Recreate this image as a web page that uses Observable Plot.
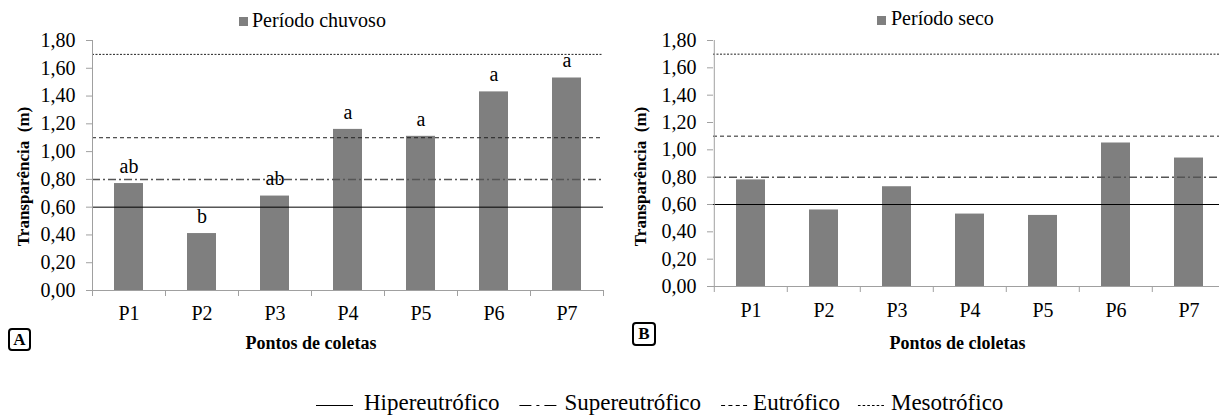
<!DOCTYPE html>
<html>
<head>
<meta charset="utf-8">
<script src="https://cdn.jsdelivr.net/npm/d3@7"></script>
<script src="https://cdn.jsdelivr.net/npm/@observablehq/plot@0.6"></script>
<style>
  html, body { margin: 0; padding: 0; background: #fff; overflow: hidden; }
  #root { position: relative; width: 1219px; height: 415px; overflow: hidden;
          font-family: "Liberation Serif", "Times New Roman", serif; color: #000; }
  .panel { position: absolute; top: 0; }
  .toplegend { position: absolute; font-size: 20px; line-height: 20px; white-space: nowrap; }
  .swatch { position: absolute; width: 9px; height: 9px; background: #7f7f7f; }
  .tag { position: absolute; box-sizing: border-box; border: 2px solid #000; border-radius: 4px;
         font-weight: bold; font-size: 17px; text-align: center; }
  #bottomlegend { position: absolute; left: 0; top: 390px; }
</style>
</head>
<body>
<div id="root"></div>
<script>
// ---------------- data ----------------
const categories = ["P1", "P2", "P3", "P4", "P5", "P6", "P7"];
const rainyValues = [0.77, 0.41, 0.68, 1.16, 1.11, 1.43, 1.53];
const rainyLetters = ["ab", "b", "ab", "a", "a", "a", "a"];
const dryValues = [0.78, 0.56, 0.73, 0.53, 0.52, 1.05, 0.94];
const yTicks = [0, 0.2, 0.4, 0.6, 0.8, 1.0, 1.2, 1.4, 1.6, 1.8];
const thresholdNames = ["Hipereutrófico", "Supereutrófico", "Eutrófico", "Mesotrófico"];
const thresholdValues = [0.6, 0.8, 1.1, 1.7];
const panelTitles = ["Período chuvoso", "Período seco"];
const xTitles = ["Pontos de coletas", "Pontos de cloletas"];
const yTitle = "Transparência\u00a0 (m)";
const panelTags = ["A", "B"];

// ---------------- styles ----------------
const barColor = "#7f7f7f";
const axisColor = "#a0a0a0";
const thresholdStyles = [
  {stroke: "#000", strokeWidth: 1, strokeDasharray: null},
  {stroke: "#555", strokeWidth: 1.5, strokeDasharray: "8,3,2,3"},
  {stroke: "#222", strokeWidth: 1, strokeDasharray: "4,3"},
  {stroke: "#222", strokeWidth: 1, strokeDasharray: "2,1.5"}
];
const legendSamples = [
  {w: 37, dash: null, gapAfterSample: 11, gapAfterText: 20},
  {w: 37, dash: "12,5,3,5,12", gapAfterSample: 8, gapAfterText: 20},
  {w: 26, dash: "4,3.33", gapAfterSample: 6, gapAfterText: 18},
  {w: 27, dash: "2.6,2.08", gapAfterSample: 6, gapAfterText: 0}
];
const fmt = d => d.toFixed(2).replace(".", ",");

function makePanel({values, letters, width, height, marginLeft, marginRight, marginTop, marginBottom,
                    xTitle, xTitleDx, xTitleY, yTitleDx, yTitleDy, tickPadX}) {
  const data = categories.map((c, i) => ({c, v: values[i], l: letters ? letters[i] : ""}));
  const step = (width - marginLeft - marginRight) / categories.length;
  const y0 = height - marginBottom;
  const marks = [
    Plot.barY(data, {x: "c", y: "v", fill: barColor}),
    ...thresholdValues.map((v, i) => Plot.ruleY([v], {...thresholdStyles[i]})),
    // axis lines
    Plot.ruleX([categories[0]], {x: d => d, dx: -step / 2, stroke: axisColor}),
    Plot.ruleY([0], {stroke: axisColor}),
    // category boundary ticks
    Plot.ruleX(categories, {x: d => d, dx: -step / 2, y1: 0, y2: 0, insetBottom: -6, stroke: axisColor}),
    Plot.ruleX([categories[categories.length - 1]], {x: d => d, dx: step / 2, y1: 0, y2: 0, insetBottom: -6, stroke: axisColor}),
    Plot.axisY({ticks: yTicks, tickFormat: fmt, tickSize: 6, tickPadding: 11, stroke: axisColor, fill: "#000", label: null}),
    Plot.axisX({tickSize: 0, tickPadding: tickPadX, label: null, fill: "#000"}),
    Plot.text([yTitle], {text: d => d, frameAnchor: "left", rotate: -90, dx: yTitleDx, dy: yTitleDy,
                         textAnchor: "middle", lineAnchor: "middle", fontWeight: "bold", fontSize: 17}),
    Plot.text([xTitle], {text: d => d, frameAnchor: "bottom", dx: xTitleDx, dy: xTitleY - y0,
                         textAnchor: "middle", lineAnchor: "middle", fontWeight: "bold", fontSize: 18})
  ];
  if (letters) {
    marks.push(Plot.text(data, {x: "c", y: "v", text: "l", dy: -17, lineAnchor: "middle", fontSize: 20}));
  }
  return Plot.plot({
    width, height, marginLeft, marginRight, marginTop, marginBottom,
    style: {fontFamily: "'Liberation Serif', 'Times New Roman', serif", fontSize: "20px",
            color: "#000", background: "transparent", overflow: "visible"},
    x: {domain: categories, paddingInner: 0.6, paddingOuter: 0.3, axis: null},
    y: {domain: [0, 1.8], axis: null},
    marks
  });
}

const root = document.getElementById("root");

function addPanel(left, width, svg) {
  const div = document.createElement("div");
  div.className = "panel";
  div.style.left = left + "px";
  div.style.width = width + "px";
  div.appendChild(svg);
  root.appendChild(div);
}

addPanel(0, 610, makePanel({values: rainyValues, letters: rainyLetters, width: 610, height: 360,
  marginLeft: 92, marginRight: 7, marginTop: 40, marginBottom: 70,
  xTitle: xTitles[0], xTitleDx: -37, xTitleY: 343, yTitleDx: -69, yTitleDy: 11, tickPadX: 15.5}));
addPanel(610, 617, makePanel({values: dryValues, letters: null, width: 617, height: 360,
  marginLeft: 103, marginRight: 0, marginTop: 40, marginBottom: 74,
  xTitle: xTitles[1], xTitleDx: -13, xTitleY: 343, yTitleDx: -73, yTitleDy: 13, tickPadX: 16.5}));

// top legends
[[239, 17, 252, 10], [877, 16, 891, 8]].forEach(([sx, sy, tx, ty], i) => {
  const sw = document.createElement("div");
  sw.className = "swatch"; sw.style.left = sx + "px"; sw.style.top = sy + "px";
  root.appendChild(sw);
  const t = document.createElement("div");
  t.className = "toplegend"; t.style.left = tx + "px"; t.style.top = ty + "px";
  t.textContent = panelTitles[i];
  root.appendChild(t);
});

// panel tags
[[8, 328, 23, 23], [632, 322, 24, 24]].forEach(([x, y, w, h], i) => {
  const d = document.createElement("div");
  d.className = "tag";
  d.style.left = x + "px"; d.style.top = y + "px";
  d.style.width = w + "px"; d.style.height = h + "px"; d.style.lineHeight = (h - 4) + "px";
  d.textContent = panelTags[i];
  root.appendChild(d);
});

// bottom legend (SVG, sequential layout using measured text widths)
const ns = "http://www.w3.org/2000/svg";
const lg = document.createElementNS(ns, "svg");
lg.setAttribute("id", "bottomlegend");
lg.setAttribute("width", 1219);
lg.setAttribute("height", 25);
root.appendChild(lg);
let lx = 316;
thresholdNames.forEach((name, i) => {
  const s = legendSamples[i];
  const line = document.createElementNS(ns, "line");
  line.setAttribute("x1", lx); line.setAttribute("x2", lx + s.w);
  line.setAttribute("y1", 15.5); line.setAttribute("y2", 15.5);
  line.setAttribute("stroke", "#000"); line.setAttribute("stroke-width", 1);
  if (s.dash) line.setAttribute("stroke-dasharray", s.dash);
  lg.appendChild(line);
  lx += s.w + s.gapAfterSample;
  const t = document.createElementNS(ns, "text");
  t.setAttribute("x", lx); t.setAttribute("y", 20);
  t.setAttribute("font-family", "'Liberation Serif', 'Times New Roman', serif");
  t.setAttribute("font-size", 23);
  t.textContent = name;
  lg.appendChild(t);
  lx += t.getComputedTextLength() + s.gapAfterText;
});
</script>
</body>
</html>
